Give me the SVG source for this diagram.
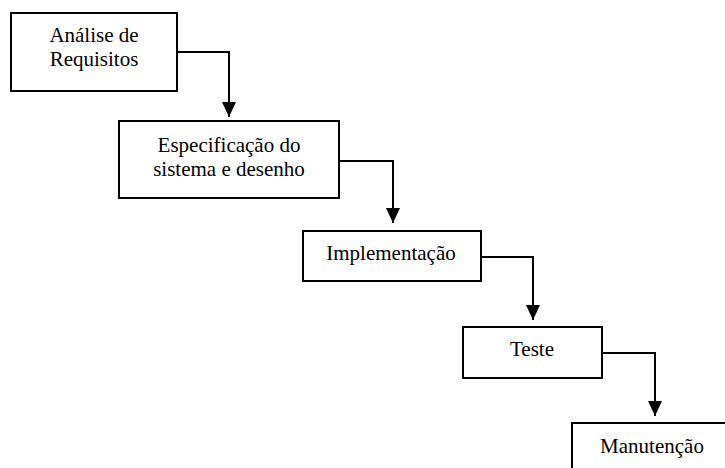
<svg xmlns="http://www.w3.org/2000/svg" width="725" height="468" viewBox="0 0 725 468">
  <style>
    .box { fill: #ffffff; stroke: #000000; stroke-width: 2; }
    .lbl { font-family: 'Liberation Serif', Tinos, 'Times New Roman', Times, 'DejaVu Serif', serif; font-size: 21px; fill: #000000; text-anchor: middle; }
    .wire { fill: none; stroke: #000000; stroke-width: 2; }
  </style>
  <defs>
    <marker id="arrow" markerUnits="userSpaceOnUse" markerWidth="16" markerHeight="16" viewBox="0 0 16 16" refX="15" refY="8" orient="auto">
      <path d="M0,1 L15,8 L0,15 Z" fill="#000000"/>
    </marker>
  </defs>
  <rect width="725" height="468" fill="#ffffff"/>

  <g id="connectors">
    <path class="wire" d="M177,52 H229 V117" marker-end="url(#arrow)"/>
    <path class="wire" d="M339,161 H393 V223" marker-end="url(#arrow)"/>
    <path class="wire" d="M481,257 H533 V320" marker-end="url(#arrow)"/>
    <path class="wire" d="M602,353 H655 V416" marker-end="url(#arrow)"/>
  </g>

  <g id="analise">
    <rect class="box" x="11" y="13" width="166" height="78"/>
    <text class="lbl" x="94" y="42">Análise de</text>
    <text class="lbl" x="94" y="66">Requisitos</text>
  </g>

  <g id="especificacao">
    <rect class="box" x="119" y="121" width="220" height="77"/>
    <text class="lbl" x="229" y="152">Especificação do</text>
    <text class="lbl" x="229" y="176">sistema e desenho</text>
  </g>

  <g id="implementacao">
    <rect class="box" x="303" y="231" width="178" height="50"/>
    <text class="lbl" x="391" y="260">Implementação</text>
  </g>

  <g id="teste">
    <rect class="box" x="463" y="327" width="139" height="51"/>
    <text class="lbl" x="532" y="356">Teste</text>
  </g>

  <g id="manutencao">
    <rect class="box" x="572" y="423" width="163" height="60"/>
    <text class="lbl" x="652" y="453">Manutenção</text>
  </g>
</svg>
